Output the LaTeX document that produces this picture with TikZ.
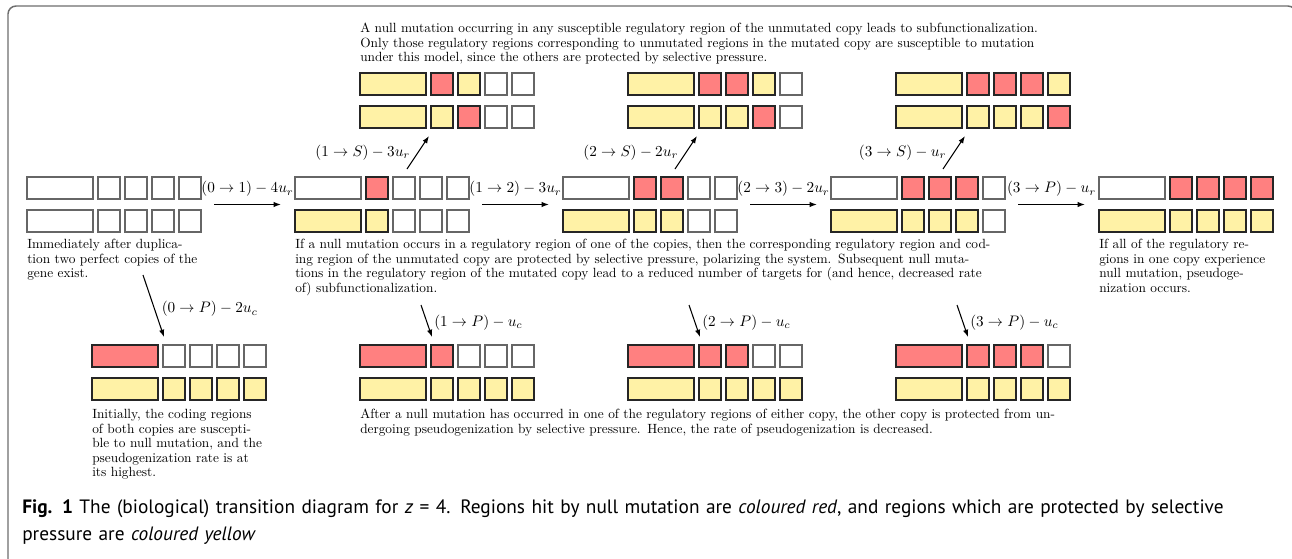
\RequirePackage{fix-cm}
\documentclass[tikz,border=0pt]{standalone}
\usepackage{fontspec}
\newfontfamily\capfont{PT Sans}
\usetikzlibrary{arrows.meta,calc}
\definecolor{nullred}{HTML}{FF8080}
\definecolor{protyellow}{HTML}{FFF2A6}
\definecolor{framegray}{HTML}{6E6E6E}
\tikzset{
  cw/.style={fill=white,draw=black!60},
  cr/.style={fill=nullred,draw=black!85},
  cy/.style={fill=protyellow,draw=black!85},
  bigbox/.style={rectangle,inner sep=0pt,outer sep=0pt,line width=0.8pt,minimum width=49.5pt,minimum height=16.5pt},
  smallbox/.style={rectangle,inner sep=0pt,outer sep=0pt,line width=0.8pt,minimum width=16.5pt,minimum height=16.5pt},
  stateframe/.style={rectangle,inner sep=0pt,outer sep=0pt,minimum width=130.5pt,minimum height=41.25pt},
  arr/.style={-{Latex[length=5.5pt,width=4pt]},line width=0.8pt,black},
  lbl/.style={inner sep=0pt,font=\fontsize{11.4}{13}\selectfont},
  desc/.style={inner sep=0pt,anchor=base west,text width=780pt,align=left,font=\fontsize{10}{10.9}\selectfont},
}
\newcommand\geneState[5]{%
  \foreach \col [count=\i from 0] in {#4}{%
    \ifnum\i=0\relax
      \node[bigbox,c\col] (#1-t\i) at (#2+33,#3+11) {};%
    \else
      \node[smallbox,c\col] (#1-t\i) at (#2+55+27*\i,#3+11) {};%
    \fi}%
  \foreach \col [count=\i from 0] in {#5}{%
    \ifnum\i=0\relax
      \node[bigbox,c\col] (#1-b\i) at (#2+33,#3+44) {};%
    \else
      \node[smallbox,c\col] (#1-b\i) at (#2+55+27*\i,#3+44) {};%
    \fi}%
  \node[stateframe] (#1) at (#2+87,#3+27.5) {};%
}
\begin{document}
\begin{tikzpicture}[x=0.75pt,y=-0.75pt]
\clip (0,0) rectangle (1292,558);
\fill[white] (0,0) rectangle (1292,558);
\draw[framegray,line width=1.1pt,rounded corners=6pt] (8,580) -- (8,6) -- (1296,6) -- (1296,580);

% main row
\geneState{S0}{27}{177}{w,w,w,w,w}{w,w,w,w,w}
\geneState{S1}{295}{177}{w,r,w,w,w}{y,y,w,w,w}
\geneState{S2}{563}{177}{w,r,r,w,w}{y,y,y,w,w}
\geneState{S3}{831}{177}{w,r,r,r,w}{y,y,y,y,w}
\geneState{SP}{1099}{177}{w,r,r,r,r}{y,y,y,y,y}
% upper row
\geneState{U1}{360}{73}{y,r,y,w,w}{y,y,r,w,w}
\geneState{U2}{628}{73}{y,r,r,y,w}{y,y,y,r,w}
\geneState{U3}{896}{73}{y,r,r,r,y}{y,y,y,y,r}
% lower row
\geneState{L0}{92}{345}{r,w,w,w,w}{y,y,y,y,y}
\geneState{L1}{360}{345}{r,r,w,w,w}{y,y,y,y,y}
\geneState{L2}{628}{345}{r,r,r,w,w}{y,y,y,y,y}
\geneState{L3}{896}{345}{r,r,r,r,w}{y,y,y,y,y}

% horizontal transitions
\draw[arr] ([xshift=9.75pt]S0.east) -- ([xshift=-10.5pt]S1.west)
  node[lbl,midway,yshift=11.6pt] {$(0\to1)-4u_r$};
\draw[arr] ([xshift=9.75pt]S1.east) -- ([xshift=-10.5pt]S2.west)
  node[lbl,midway,yshift=11.6pt] {$(1\to2)-3u_r$};
\draw[arr] ([xshift=9.75pt]S2.east) -- ([xshift=-10.5pt]S3.west)
  node[lbl,midway,yshift=11.6pt] {$(2\to3)-2u_r$};
\draw[arr] ([xshift=9.75pt]S3.east) -- ([xshift=-10.5pt]SP.west)
  node[lbl,midway,yshift=11.6pt] {$(3\to P)-u_r$};

% subfunctionalization transitions
\coordinate (S1up) at ([shift={(112,-8)}]S1.north west);
\coordinate (S2up) at ([shift={(112,-8)}]S2.north west);
\coordinate (S3up) at ([shift={(112,-8)}]S3.north west);
\coordinate (U1in) at ([shift={(69,8)}]U1.south west);
\coordinate (U2in) at ([shift={(69,8)}]U2.south west);
\coordinate (U3in) at ([shift={(69,8)}]U3.south west);
\draw[arr] (S1up) -- (U1in) node[lbl,midway,anchor=east,xshift=-5.5pt] {$(1\to S)-3u_r$};
\draw[arr] (S2up) -- (U2in) node[lbl,midway,anchor=east,xshift=-5.5pt] {$(2\to S)-2u_r$};
\draw[arr] (S3up) -- (U3in) node[lbl,midway,anchor=east,xshift=-5.5pt] {$(3\to S)-u_r$};

% pseudogenization transitions
\coordinate (S0dn) at ([shift={(116,43)}]S0.south west);
\coordinate (S1dn) at ([shift={(126,73)}]S1.south west);
\coordinate (S2dn) at ([shift={(126,73)}]S2.south west);
\coordinate (S3dn) at ([shift={(126,73)}]S3.south west);
\coordinate (L0in) at ([shift={(72,-8)}]L0.north west);
\coordinate (L1in) at ([shift={(72,-8)}]L1.north west);
\coordinate (L2in) at ([shift={(72,-8)}]L2.north west);
\coordinate (L3in) at ([shift={(72,-8)}]L3.north west);
\draw[arr] (S0dn) -- (L0in) node[lbl,pos=0.55,anchor=west,xshift=5pt] {$(0\to P)-2u_c$};
\draw[arr] (S1dn) -- (L1in) node[lbl,pos=0.55,anchor=west,xshift=5pt] {$(1\to P)-u_c$};
\draw[arr] (S2dn) -- (L2in) node[lbl,pos=0.55,anchor=west,xshift=5pt] {$(2\to P)-u_c$};
\draw[arr] (S3dn) -- (L3in) node[lbl,pos=0.55,anchor=west,xshift=5pt] {$(3\to P)-u_c$};

% descriptions
\node[desc] (tA) at (360,32.5) {A null mutation occurring in any susceptible regulatory region of the unmutated copy leads to subfunctionalization.\\
Only those regulatory regions corresponding to unmutated regions in the mutated copy are susceptible to mutation\\
under this model, since the others are protected by selective pressure.};
\node[desc] (t0) at (27,248.5) {Immediately after duplica-\\tion two perfect copies of the\\gene exist.};
\node[desc] (tB) at (295,248.5) {If a null mutation occurs in a regulatory region of one of the copies, then the corresponding regulatory region and cod-\\
ing region of the unmutated copy are protected by selective pressure, polarizing the system. Subsequent null muta-\\
tions in the regulatory region of the mutated copy lead to a reduced number of targets for (and hence, decreased rate\\
of) subfunctionalization.};
\node[desc] (tC) at (1099,248.5) {If all of the regulatory re-\\gions in one copy experience\\null mutation, pseudoge-\\nization occurs.};
\node[desc] (tD) at (92,418.5) {Initially, the coding regions\\of both copies are suscepti-\\ble to null mutation, and the\\pseudogenization rate is at\\its highest.};
\node[desc] (tE) at (360,418.5) {After a null mutation has occurred in one of the regulatory regions of either copy, the other copy is protected from un-\\
dergoing pseudogenization by selective pressure. Hence, the rate of pseudogenization is decreased.};

% caption
\node[inner sep=0pt,anchor=base west,text width=960pt,align=left,font=\capfont\fontsize{14.5}{20.25}\selectfont] (cap) at (22,513)
  {\textbf{Fig. 1} The (biological) transition diagram for \textit{z} = 4. Regions hit by null mutation are \textit{coloured red}, and regions which are protected by selective\\
  pressure are \textit{coloured yellow}};
\end{tikzpicture}
\end{document}
